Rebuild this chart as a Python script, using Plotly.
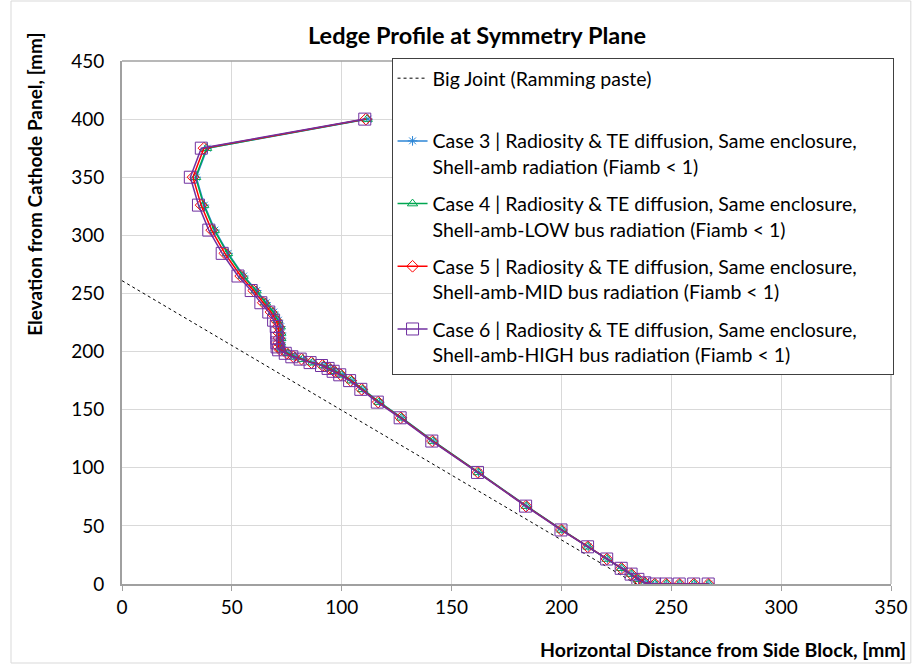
import plotly.graph_objects as go

# ---------------- data ----------------
joint_x = [0, 234]
joint_y = [261, 0]

elev = [400, 375, 350, 326, 304.5, 284.5, 265, 252.5, 242, 234, 227, 221.5, 216, 211.5,
        207.5, 204, 201.5, 198.5, 195.5, 193.5, 190.5, 188, 185.5, 183, 180, 175, 167.5,
        156.5, 143, 123, 96, 67, 46.5, 32, 21.5, 13.5, 8.5, 4, 1, 0, 0, 0, 0, 0]

case3_x = [112.0, 38.8, 33.8, 37.5, 42.3, 48.3, 55.4, 61.3, 65.6, 69.1, 71.2, 72.3, 72.6, 72.6,
           72.4, 72.3, 73.0, 75.9, 78.9, 82.6, 87.0, 92.0, 95.0, 97.3, 100.3, 104.7, 109.7,
           117.2, 127.4, 141.7, 162.3, 184.2, 200.3, 212.2, 220.9, 227.5, 232.0, 235.1, 238.2,
           242.7, 247.9, 253.9, 260.5, 267.1]
case4_x = [111.6, 38.5, 33.5, 37.2, 42.0, 48.0, 55.1, 61.0, 65.3, 68.8, 70.9, 72.0, 72.3, 72.3,
           72.1, 72.0, 72.7, 75.6, 78.6, 82.3, 86.8, 91.8, 94.8, 97.1, 100.1, 104.5, 109.5,
           117.0, 127.2, 141.6, 162.2, 184.1, 200.2, 212.1, 220.8, 227.4, 231.9, 235.0, 238.1,
           242.6, 247.8, 253.8, 260.4, 267.0]
case5_x = [111.0, 37.3, 32.3, 36.0, 40.8, 46.8, 54.0, 59.9, 64.3, 67.8, 70.0, 71.1, 71.4, 71.4,
           71.3, 71.3, 72.0, 75.0, 78.0, 81.7, 86.2, 91.3, 94.3, 96.6, 99.6, 104.1, 109.1,
           116.6, 126.9, 141.3, 162.0, 183.9, 200.0, 212.0, 220.7, 227.3, 231.8, 234.9, 238.0,
           242.5, 247.7, 253.7, 260.3, 266.9]
case6_x = [110.5, 36.1, 31.1, 34.8, 39.5, 45.6, 52.8, 58.8, 63.2, 66.8, 69.0, 70.2, 70.5, 70.5,
           70.5, 70.6, 71.3, 74.3, 77.3, 81.1, 85.6, 90.8, 93.8, 96.1, 99.1, 103.6, 108.7,
           116.2, 126.6, 141.0, 161.8, 183.7, 199.8, 211.9, 220.6, 227.2, 231.7, 234.8, 237.9,
           242.4, 247.6, 253.6, 260.2, 266.8]

PAD = "\u00a0" * 6
names = [
    "Big Joint (Ramming paste)<br> ",
    "Case 3 | Radiosity & TE diffusion, Same enclosure," + PAD + "<br>Shell-amb radiation (Fiamb < 1)",
    "Case 4 | Radiosity & TE diffusion, Same enclosure,<br>Shell-amb-LOW bus radiation (Fiamb < 1)",
    "Case 5 | Radiosity & TE diffusion, Same enclosure,<br>Shell-amb-MID bus radiation (Fiamb < 1)",
    "Case 6 | Radiosity & TE diffusion, Same enclosure,<br>Shell-amb-HIGH bus radiation (Fiamb < 1)",
]

x_ticks = [0, 50, 100, 150, 200, 250, 300, 350]
y_ticks = [0, 50, 100, 150, 200, 250, 300, 350, 400, 450]

FONT = "Lato, 'Open Sans', sans-serif"
W, H = 920, 665
L, R, T, B = 122, 22, 61, 81
PW, PH = W - L - R, H - T - B


def px(xp):
    return (xp - L) / PW


def py(yp):
    return (H - B - yp) / PH


fig = go.Figure()
fig.add_trace(go.Scatter(x=joint_x, y=joint_y, mode="lines", name=names[0], legendgroup="g0",
                         line=dict(color="black", width=1, dash="dot")))
fig.add_trace(go.Scatter(x=case3_x, y=elev, mode="lines+markers", name=names[1], legendgroup="g1",
                         line=dict(color="#2C86D6", width=1.5),
                         marker=dict(symbol="asterisk-open", size=8,
                                     line=dict(color="#2C86D6", width=1))))
fig.add_trace(go.Scatter(x=case4_x, y=elev, mode="lines+markers", name=names[2], legendgroup="g2",
                         line=dict(color="#00A651", width=1.5),
                         marker=dict(symbol="triangle-up-open", size=9, color="#00A651",
                                     line=dict(color="#00A651", width=1))))
fig.add_trace(go.Scatter(x=case5_x, y=elev, mode="lines+markers", name=names[3], legendgroup="g3",
                         line=dict(color="#FF0000", width=1.5),
                         marker=dict(symbol="diamond-open", size=9, color="#FF0000",
                                     line=dict(color="#FF0000", width=1))))
fig.add_trace(go.Scatter(x=case6_x, y=elev, mode="lines+markers", name=names[4], legendgroup="g4",
                         line=dict(color="#7030A0", width=1.5),
                         marker=dict(symbol="square-open", size=12, color="#7030A0",
                                     line=dict(color="#7030A0", width=1))))

fig.update_layout(
    width=W, height=H,
    margin=dict(l=L, r=R, t=T, b=B),
    paper_bgcolor="white", plot_bgcolor="white",
    font=dict(family=FONT, size=19, color="#000000"),
    title=dict(text="<b>Ledge Profile at Symmetry Plane</b>", x=477 / W, xref="container",
               xanchor="center", y=1 - 36 / H, yref="container", yanchor="middle",
               font=dict(family=FONT, size=23.5, color="#000000")),
    showlegend=True,
    legend=dict(x=px(394), y=py(58), xanchor="left", yanchor="top",
                bgcolor="white", bordercolor="#404040", borderwidth=1,
                font=dict(family=FONT, size=19.5, color="#000000"),
                itemwidth=30, tracegroupgap=9, traceorder="grouped", valign="top"),
    xaxis=dict(range=[0, 350], tickvals=x_ticks, showgrid=True, gridcolor="#D9D9D9",
               gridwidth=1, zeroline=False, showline=True, linecolor="#A0A0A0", linewidth=2,
               mirror=False, ticks="outside", ticklen=5, tickcolor="#A0A0A0",
               tickfont=dict(family=FONT, size=19, color="#000000")),
    yaxis=dict(range=[0, 450], tickvals=y_ticks, showgrid=True, gridcolor="#D9D9D9",
               gridwidth=1, zeroline=False, showline=True, linecolor="#A0A0A0", linewidth=2,
               mirror=False, ticks="", ticklabelstandoff=12,
               tickfont=dict(family=FONT, size=19, color="#000000")),
    annotations=[
        dict(text="<b>Elevation from Cathode Panel, [mm]</b>", xref="paper", yref="paper",
             x=px(33), y=py(184), textangle=-90, showarrow=False,
             xanchor="center", yanchor="middle",
             font=dict(family=FONT, size=19, color="#000000")),
        dict(text="<b>Horizontal Distance from Side Block, [mm]</b>", xref="paper",
             yref="paper", x=px(915), y=py(649), showarrow=False,
             xanchor="right", yanchor="middle",
             font=dict(family=FONT, size=19.5, color="#000000")),
    ],
    shapes=[
        dict(type="line", xref="paper", yref="paper", x0=0, x1=1, y0=1, y1=1,
             line=dict(color="#A0A0A0", width=1.5)),
        dict(type="line", xref="paper", yref="paper", x0=1, x1=1, y0=0, y1=1,
             line=dict(color="#A0A0A0", width=1)),
        dict(type="rect", xref="paper", yref="paper", x0=px(10), x1=px(918), y0=py(1),
             y1=py(663), line=dict(color="#D9D9D9", width=1), layer="below"),
    ],
)

fig.write_html("out.html")
